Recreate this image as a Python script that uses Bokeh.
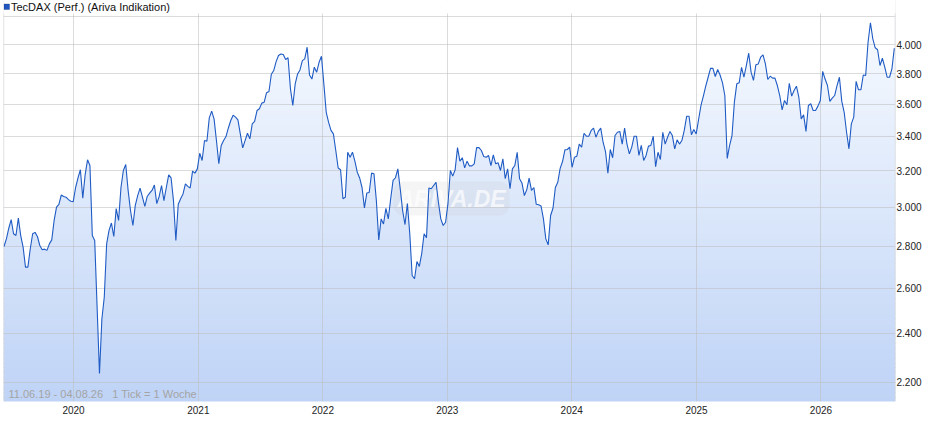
import numpy as np
import pandas as pd
from bokeh.plotting import figure
from bokeh.models import (FixedTicker, CustomJSTickFormatter, DatetimeTickFormatter,
                          Range1d, Label, Span, BoxAnnotation)
from bokeh.embed import file_html
from bokeh.resources import INLINE

# ---------------- data (weekly closes) ----------------
first_week = "2019-06-11"
values = [
    2798, 2836, 2890, 2934, 2862, 2853, 2942, 2853, 2795, 2698,
    2698, 2787, 2862, 2869, 2848, 2803, 2782, 2785, 2779, 2811,
    2831, 2930, 3000, 3015, 3065, 3057, 3053, 3040, 3031, 3029,
    3106, 3159, 3205, 3048, 3178, 3262, 3229, 2853, 2828, 2515,
    2235, 2461, 2558, 2811, 2879, 2917, 2848, 2992, 2930, 3106,
    3201, 3235, 3090, 2982, 2904, 3009, 3062, 3103, 3053, 3004,
    3057, 3075, 3090, 3120, 3019, 3057, 3117, 3035, 3106, 3176,
    3159, 3035, 2828, 3015, 3045, 3071, 3126, 3112, 3103, 3197,
    3186, 3210, 3300, 3258, 3375, 3371, 3513, 3555, 3507, 3375,
    3239, 3346, 3375, 3399, 3451, 3497, 3530, 3518, 3501, 3415,
    3332, 3375, 3419, 3385, 3476, 3491, 3559, 3570, 3606, 3612,
    3673, 3681, 3795, 3820, 3881, 3923, 3934, 3930, 3895, 3907,
    3700, 3591, 3731, 3797, 3824, 3888, 3900, 3981, 3790, 3763,
    3843, 3809, 3876, 3918, 3731, 3548, 3485, 3436, 3415, 3316,
    3215, 3205, 3045, 3053, 3306, 3277, 3306, 3254, 3191, 3159,
    3106, 2996, 3076, 3079, 3186, 3182, 3035, 2831, 2938, 2912,
    2994, 2938, 3045, 3145, 3160, 3210, 3099, 2982, 2909, 3019,
    2862, 2658, 2643, 2725, 2701, 2763, 2862, 2842, 3103, 3099,
    3117, 3135, 3026, 2938, 2904, 2921, 3019, 3201, 3169, 3205,
    3333, 3254, 3274, 3216, 3254, 3227, 3227, 3239, 3333, 3333,
    3316, 3281, 3277, 3287, 3229, 3291, 3239, 3245, 3201, 3268,
    3155, 3210, 3099, 3210, 3229, 3306, 3155, 3131, 3062, 3093,
    3158, 3090, 3106, 3015, 3013, 3006, 2938, 2836, 2806, 2956,
    2994, 3106, 3135, 3213, 3252, 3320, 3322, 3336, 3219, 3277,
    3283, 3354, 3336, 3419, 3401, 3401, 3436, 3450, 3395, 3430,
    3450, 3365, 3310, 3186, 3322, 3274, 3405, 3425, 3430, 3354,
    3450, 3354, 3296, 3336, 3401, 3401, 3287, 3346, 3258, 3287,
    3342, 3346, 3401, 3223, 3306, 3264, 3425, 3354, 3395, 3430,
    3405, 3326, 3379, 3354, 3375, 3436, 3523, 3523, 3410, 3442,
    3415, 3503, 3591, 3651, 3716, 3775, 3835, 3835, 3780, 3827,
    3790, 3739, 3655, 3270, 3346, 3405, 3612, 3731, 3738, 3842,
    3775, 3854, 3939, 3809, 3754, 3859, 3865, 3911, 3928, 3865,
    3760, 3782, 3769, 3769, 3720, 3655, 3563, 3623, 3595, 3735,
    3651, 3688, 3716, 3644, 3507, 3532, 3430, 3591, 3602, 3559,
    3559, 3587, 3623, 3815, 3763, 3720, 3617, 3638, 3655, 3720,
    3775, 3617, 3548, 3425, 3326, 3476, 3518, 3748, 3692, 3692,
    3790, 3787, 4016, 4157, 4040, 3977, 3963, 3854, 3904, 3843,
    3775, 3775, 3832, 3974,
]
year_ticks = ["2020-01-01", "2021-01-01", "2022-01-01", "2023-01-01",
              "2024-01-01", "2025-01-01", "2026-01-01"]
price_ticks = [2200, 2400, 2600, 2800, 3000, 3200, 3400, 3600, 3800, 4000, 4200]
series_name = "TecDAX (Perf.) (Ariva Indikation)"
period_note = "11.06.19 - 04.08.26\u00a0\u00a0\u00a01 Tick = 1 Woche"
watermark = "ARIVA.DE"

# ---------------- derived ----------------
dates = pd.date_range(first_week, periods=len(values), freq="7D")
year_ms = [pd.Timestamp(d).value // 10**6 for d in year_ticks]

x_start = dates[0] - pd.Timedelta(hours=36)
x_end = dates[-1] + pd.Timedelta(hours=84)
y_lo, y_hi = 2127, 4324          # frame spans the full canvas top; header strip masked
y_chart_top = 4225               # value at the top edge of the chart area

p = figure(x_axis_type="datetime", y_axis_type="log", y_axis_location="right",
           x_range=Range1d(x_start, x_end), y_range=Range1d(y_lo, y_hi),
           width=924, height=419,
           min_border_left=3, min_border_right=26, min_border_top=0, min_border_bottom=18,
           toolbar_location=None, output_backend="svg", title=None)
p.outline_line_color = None
p.background_fill_color = "white"
p.border_fill_color = "white"

# vertical gradient under the curve: colour bands + white mask above the line
n = 80
edges = np.geomspace(y_lo * 0.98, y_chart_top, n + 1)
top_rgb = np.array([248, 251, 255])
bot_rgb = np.array([189, 210, 246])
cols = []
for i in range(n):
    t = (i + 0.5) / n
    c = bot_rgb + (top_rgb - bot_rgb) * t
    cols.append("#%02x%02x%02x" % tuple(int(round(v)) for v in c))
p.hstrip(y0=edges[:-1], y1=edges[1:], fill_color=cols, line_color=cols,
         line_width=1, level="image")
p.varea(x=dates, y1=values, y2=y_hi * 1.1, fill_color="white", level="image")

# grid
p.xgrid.ticker = FixedTicker(ticks=year_ms)
p.ygrid.ticker = FixedTicker(ticks=price_ticks)
for g in (p.xgrid, p.ygrid):
    g.grid_line_color = "#bdbdbd"
    g.grid_line_alpha = 0.55
    g.grid_line_width = 1

# frame borders (left and right)
p.add_layout(Span(location=pd.Timestamp(x_start).value // 10**6 + 3600000 * 12,
                  dimension="height", line_color="#cfcfcf", line_width=1, level="underlay"))
p.add_layout(Span(location=pd.Timestamp(x_end).value // 10**6 - 3600000 * 12,
                  dimension="height", line_color="#cccccc", line_width=1, level="underlay"))

# series line
p.line(dates, values, line_color="#1f5bc4", line_width=1.1)

# header strip (white) above the chart area
p.add_layout(BoxAnnotation(bottom=388, top=405, left=-5, right=900,
                           left_units="screen", right_units="screen",
                           top_units="screen", bottom_units="screen",
                           fill_color="white", fill_alpha=1.0, line_color=None))

# x axis
xa = p.xaxis[0]
xa.ticker = FixedTicker(ticks=year_ms)
xa.formatter = DatetimeTickFormatter(years="%Y", months="%Y", days="%Y", hours="%Y",
                                     minutes="%Y", seconds="%Y", milliseconds="%Y")
xa.axis_line_color = None
xa.major_tick_line_color = None
xa.minor_tick_line_color = None
xa.major_tick_out = 0
xa.major_tick_in = 0
xa.minor_tick_out = 0
xa.minor_tick_in = 0
xa.major_label_text_font = "Liberation Sans"
xa.major_label_text_font_size = "10px"
xa.major_label_text_color = "#222222"
xa.major_label_standoff = 4

# y axis (right)
ya = p.yaxis[0]
ya.ticker = FixedTicker(ticks=price_ticks)
ya.formatter = CustomJSTickFormatter(code="""
    const v = Math.round(tick);
    if (v > 4100) return "";
    return Math.floor(v / 1000) + "." + String(v % 1000).padStart(3, "0");
""")
ya.axis_line_color = None
ya.major_tick_line_color = None
ya.minor_tick_line_color = None
ya.major_tick_out = 0
ya.major_tick_in = 0
ya.minor_tick_out = 0
ya.minor_tick_in = 0
ya.major_label_text_font = "Liberation Sans"
ya.major_label_text_font_size = "10px"
ya.major_label_text_color = "#222222"
ya.major_label_standoff = 1

# legend (square + text) in the header strip
p.add_layout(BoxAnnotation(left=0.5, right=6, bottom=392, top=397.5,
                           left_units="screen", right_units="screen",
                           top_units="screen", bottom_units="screen",
                           fill_color="#1f56c0", fill_alpha=1.0,
                           line_color="#0d2f7a", line_width=1))
p.add_layout(Label(x=7.5, y=394.5, x_units="screen", y_units="screen", text=series_name,
                   text_font="Liberation Sans", text_font_size="11px",
                   text_color="#111111", text_baseline="middle"))

# period note bottom-left
p.add_layout(Label(x=5, y=8, x_units="screen", y_units="screen", text=period_note,
                   text_font="Liberation Sans", text_font_size="11px",
                   text_color="#a4a4a4", text_baseline="middle"))

# watermark
p.add_layout(Label(x=448, y=203, x_units="screen", y_units="screen", text=watermark,
                   text_align="center", text_baseline="middle",
                   text_font="Liberation Sans", text_font_style="bold italic",
                   text_font_size="23px", text_color="white", text_alpha=0.7,
                   background_fill_color="#c8c8c8", background_fill_alpha=0.18,
                   border_radius=10, padding=4, level="underlay"))

open("out.html", "w").write(file_html(p, INLINE))
